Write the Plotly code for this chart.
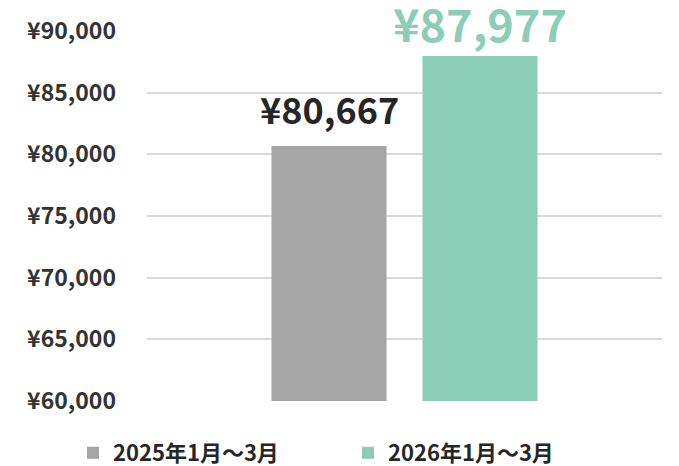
import plotly.graph_objects as go

categories = ["Q1"]
series_names = ["2025年1月～3月", "2026年1月～3月"]
values = [80667, 87977]
colors = ["#a5a5a5", "#8ccdb7"]
label_colors = ["#262626", "#8ccdb7"]
label_sizes = [36, 45]
label_yshift = [10, -1]
tick_vals = [60000, 65000, 70000, 75000, 80000, 85000, 90000]
tick_text = ["¥60,000", "¥65,000", "¥70,000", "¥75,000", "¥80,000", "¥85,000", "¥90,000"]

FONT = "Noto Sans CJK JP"

fig = go.Figure()
for name, v, c in zip(series_names, values, colors):
    fig.add_trace(go.Bar(x=categories, y=[v], name=name, marker=dict(color=c, line=dict(width=0))))

# data labels
offsets = [-75.5, 75.5]
for v, lc, off, sz, ys in zip(values, label_colors, offsets, label_sizes, label_yshift):
    fig.add_annotation(x=categories[0], y=v, xref="x", yref="y", text=f"¥{v:,}",
                       showarrow=False, yanchor="bottom", xshift=off, yshift=ys,
                       font=dict(family=FONT, size=sz, color=lc, weight="bold"))

fig.update_layout(
    width=679, height=466,
    margin=dict(l=147, r=17, t=31, b=65, autoexpand=False),
    paper_bgcolor="white", plot_bgcolor="white",
    barmode="group", bargap=0.4136, bargroupgap=0.238,
    font=dict(family=FONT, color="#333333"),
    showlegend=True,
    legend=dict(orientation="h", x=-0.1437, xanchor="left", y=-0.1405, yanchor="middle",
                font=dict(family=FONT, size=22, color="#262626", weight="bold"),
                entrywidth=230, itemwidth=30, traceorder="normal",
                bgcolor="rgba(0,0,0,0)"),
)
fig.update_xaxes(showticklabels=False, showgrid=False, zeroline=False, showline=False)
fig.update_yaxes(range=[60000, 90000], tickvals=tick_vals, ticktext=tick_text,
                 showgrid=True, gridcolor="#d9d9d9", gridwidth=1.5, zeroline=False, showline=False,
                 ticks="", ticklabelstandoff=30,
                 tickfont=dict(family=FONT, size=23, color="#333333", weight="bold"))

fig.write_html("out.html", config={"displayModeBar": False},
               post_script="document.body.style.margin='0';document.body.style.overflow='hidden';")
